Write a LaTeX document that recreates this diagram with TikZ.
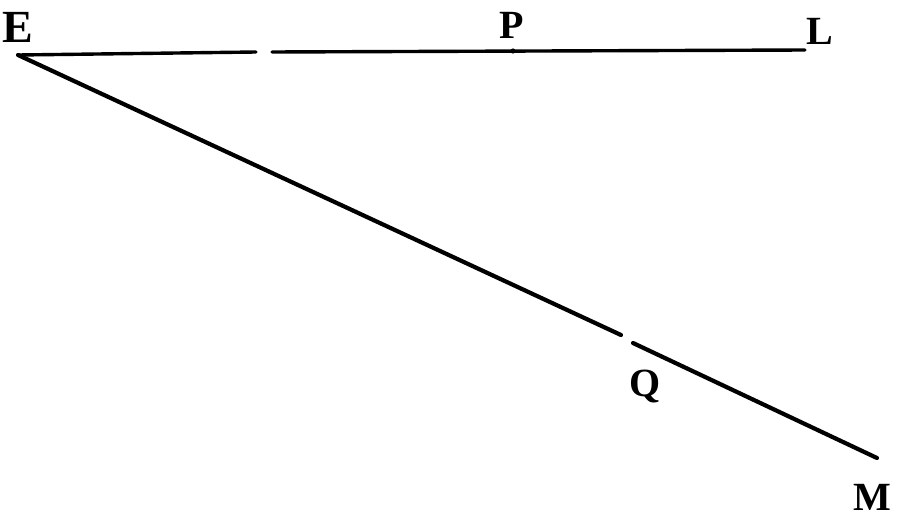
\documentclass[tikz,border=0pt]{standalone}
\usepackage{fontspec}
\setmainfont{Liberation Serif}
\begin{document}
\begin{tikzpicture}[x=1pt,y=-1pt,
  lbl/.style={font=\fontsize{40}{46}\selectfont\bfseries, inner sep=0pt},
  ln/.style={line width=4.2pt, line cap=round}]
\useasboundingbox (0,0) rectangle (900,522);
% points
\coordinate (e) at (18,55);
\coordinate (g1) at (256,52);
\coordinate (g2) at (272,52);
\coordinate (p) at (513,51);
\coordinate (l) at (805,50);
\coordinate (h1) at (621,335);
\coordinate (h2) at (633,343);
\coordinate (m) at (877,458);
% labels
\node[lbl, font=\fontsize{46}{52}\selectfont\bfseries] (E) at (18,27) {E};
\node[lbl] (P) at (512,25) {P};
\node[lbl] (L) at (820,31) {L};
\node[lbl] (Q) at (645,386) {Q};
\node[lbl] (M) at (872,497) {M};
% lines
\draw[ln, line width=3.4pt] (e) -- (g1);
\draw[ln, line width=3.4pt] (g2) -- (l);
\fill (p) circle (2.6pt);
\draw[ln] (e) -- (h1);
\draw[ln] (h2) -- (m);
\end{tikzpicture}
\end{document}
